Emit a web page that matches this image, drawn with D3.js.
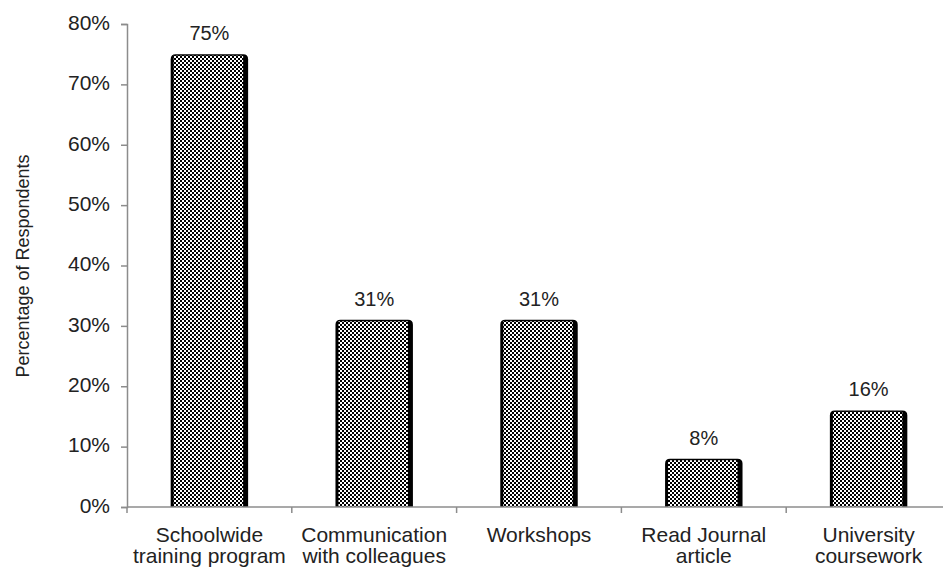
<!DOCTYPE html>
<html>
<head>
<meta charset="utf-8">
<script src="https://cdn.jsdelivr.net/npm/d3@7"></script>
<style>
  html, body { margin: 0; padding: 0; background: #fff; }
  svg { display: block; font-family: "Liberation Sans", Arial, sans-serif; }
</style>
</head>
<body>
<svg id="chart" width="943" height="569"></svg>
<script>
// Sources of training reported by respondents
const categories = [
  ["Schoolwide", "training program"],
  ["Communication", "with colleagues"],
  ["Workshops"],
  ["Read Journal", "article"],
  ["University", "coursework"]
];
const values = [75, 31, 31, 8, 16];
const yTicks = [0, 10, 20, 30, 40, 50, 60, 70, 80];
const yTitle = "Percentage of Respondents";

const svg = d3.select("#chart");
const axisColor = "#8c8c8c";
const textColor = "#222";
const fontFamily = "Liberation Sans, Arial, sans-serif";

// Checkerboard fill for the bars
const defs = svg.append("defs");
const pat = defs.append("pattern")
  .attr("id", "checker")
  .attr("patternUnits", "userSpaceOnUse")
  .attr("width", 4).attr("height", 4);
pat.append("rect").attr("width", 4).attr("height", 4).attr("fill", "#fff");
pat.append("rect").attr("width", 2).attr("height", 2).attr("fill", "#000");
pat.append("rect").attr("x", 2).attr("y", 2).attr("width", 2).attr("height", 2).attr("fill", "#000");

const x0 = 127, x1 = 951, y0 = 507, y1 = 24;

const x = d3.scaleBand()
  .domain(d3.range(categories.length))
  .range([x0, x1])
  .paddingInner(0.53)
  .paddingOuter(0.265);

const y = d3.scaleLinear().domain([0, 80]).range([y0, y1]);

// Y axis
const yAxis = svg.append("g")
  .attr("transform", `translate(${x0},0)`)
  .call(d3.axisLeft(y).tickValues(yTicks).tickFormat(d => d + "%").tickSize(6).tickPadding(11));
yAxis.select(".domain").attr("stroke", axisColor).attr("stroke-width", 1.5);
yAxis.selectAll(".tick line").attr("stroke", axisColor).attr("stroke-width", 1.5);
yAxis.selectAll(".tick text")
  .attr("fill", textColor)
  .attr("dy", "0.25em")
  .style("font-size", "21px")
  .style("font-family", fontFamily);

// Bars: black body with rounded top, checker fill inset
const r = 5;
const bars = svg.append("g").selectAll("g.bar")
  .data(values)
  .join("g").attr("class", "bar");

bars.append("path")
  .attr("fill", "#000")
  .attr("d", (d, i) => {
    const bx = x(i), bw = x.bandwidth(), top = y(d), bottom = y(0);
    return `M${bx},${bottom} L${bx},${top + r} Q${bx},${top} ${bx + r},${top}
            L${bx + bw - r},${top} Q${bx + bw},${top} ${bx + bw},${top + r} L${bx + bw},${bottom} Z`;
  });

bars.append("rect")
  .attr("fill", "url(#checker)")
  .attr("x", (d, i) => x(i) + 3)
  .attr("y", d => y(d) + 1.5)
  .attr("width", x.bandwidth() - 8)
  .attr("height", d => y(0) - y(d) - 1.5);

// Value labels
svg.append("g").selectAll("text")
  .data(values)
  .join("text")
  .attr("x", (d, i) => x(i) + x.bandwidth() / 2)
  .attr("y", d => y(d) - 14)
  .attr("text-anchor", "middle")
  .attr("fill", textColor)
  .style("font-size", "20px")
  .text(d => d + "%");

// X axis
const xAxisG = svg.append("g").attr("transform", `translate(0,${y0})`);
xAxisG.append("line")
  .attr("x1", x0).attr("x2", x1)
  .attr("stroke", axisColor).attr("stroke-width", 1.5);
const step = x.step();
xAxisG.selectAll("line.tick")
  .data(d3.range(categories.length + 1))
  .join("line").attr("class", "tick")
  .attr("x1", i => x0 + i * step).attr("x2", i => x0 + i * step)
  .attr("y1", 0).attr("y2", 6)
  .attr("stroke", axisColor).attr("stroke-width", 1.5);

// Category labels
const catLabels = svg.append("g").selectAll("text")
  .data(categories)
  .join("text")
  .attr("text-anchor", "middle")
  .attr("fill", textColor)
  .style("font-size", "21px");
catLabels.each(function (lines, i) {
  const t = d3.select(this);
  lines.forEach((ln, k) => {
    t.append("tspan")
      .attr("x", x(i) + x.bandwidth() / 2)
      .attr("y", 542 + k * 21)
      .text(ln);
  });
});

// Y axis title
svg.append("text")
  .attr("transform", `translate(29,266) rotate(-90)`)
  .attr("text-anchor", "middle")
  .attr("fill", textColor)
  .style("font-size", "18px")
  .text(yTitle);
</script>
</body>
</html>
